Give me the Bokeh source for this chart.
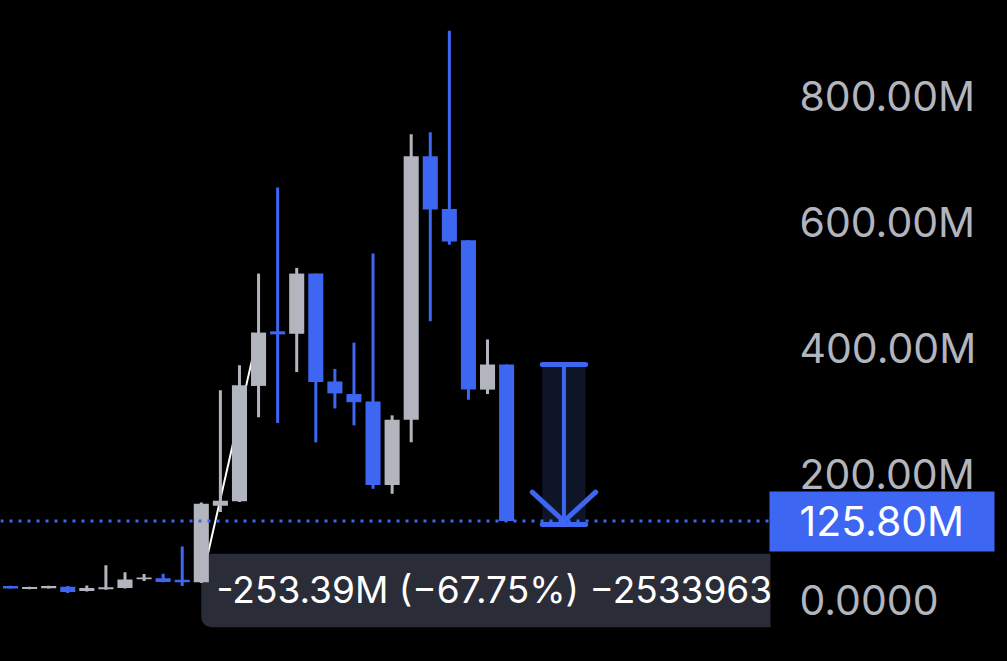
from bokeh.plotting import figure
from bokeh.models import Range1d, LinearAxis, FixedTicker, Span, ColumnDataSource
from bokeh.embed import file_html
from bokeh.resources import INLINE
from bokeh.core.properties import value

# ---- data (values in millions) ----
opens  = [22.9, 18.4, 19.4, 21.9, 14.9, 17.9, 19.9, 33.8, 35.3, 32.8, 28.8, 150.2, 157.1, 340.1, 426.6, 422.7, 518.1, 347.1, 327.2, 315.3, 183.0, 286.4, 704.1, 620.6, 570.8, 334.2, 374.0]
highs  = [23.4, 21.9, 23.3, 22.9, 23.9, 55.7, 44.8, 41.8, 42.3, 85.5, 155.1, 333.2, 372.9, 518.1, 654.4, 527.1, 518.1, 367.0, 408.7, 550.0, 293.4, 738.9, 741.9, 903.0, 570.8, 413.7, 374.0]
lows   = [18.9, 17.9, 18.9, 11.9, 14.4, 16.9, 18.9, 30.8, 28.8, 22.9, 27.8, 140.2, 156.1, 290.4, 281.4, 362.0, 250.6, 304.3, 277.5, 177.0, 169.1, 250.6, 442.6, 563.9, 318.2, 327.2, 125.8]
closes = [18.9, 21.4, 22.9, 13.4, 19.9, 20.9, 33.3, 36.3, 29.3, 28.8, 153.2, 158.1, 341.1, 424.6, 421.7, 518.1, 346.1, 328.2, 314.3, 183.0, 286.4, 704.1, 619.6, 568.8, 334.2, 374.0, 125.8]

last_price = 125.80
last_price_label = "125.80M"
tick_values = [0, 200, 400, 600, 800]
tick_labels = ["0.0000", "200.00M", "400.00M", "600.00M", "800.00M"]

# measure tool drawing
measure_x = [27.87, 30.14]
measure_from = 374.0
measure_change = -253.39
measure_to = measure_from + measure_change
measure_text = "-253.39M (\u221267.75%) \u22122533963"
tooltip_x = [10.0, 45.0]
tooltip_y = [-42.3, 74.0]
tooltip_text_pos = (10.8, 17.5)

# trend line
trend_x = [10.0, 12.74]
trend_y = [28.0, 392.0]

# ---- style ----
BLUE = "#3d66f2"
GRAY = "#b2b5be"
W, H = 1007, 661
FRAME_W = 770
AXIS_EXT = 210          # width taken by the tick-label axis
PRICE_BOX_RIGHT = 225   # blue price box right edge, px from frame

colors = [GRAY if c >= o else BLUE for o, c in zip(opens, closes)]
src = ColumnDataSource(dict(
    x=list(range(len(opens))),
    top=[max(o, c) for o, c in zip(opens, closes)],
    bottom=[min(o, c) for o, c in zip(opens, closes)],
    high=highs, low=lows, color=colors,
))

p = figure(width=W, height=H, output_backend="svg", toolbar_location=None,
           x_range=Range1d(-0.524, 39.83), y_range=Range1d(-96.7, 950.9),
           min_border_left=0, min_border_right=W - FRAME_W,
           min_border_top=0, min_border_bottom=0,
           x_axis_location=None, y_axis_location=None)
p.background_fill_color = "#000000"
p.border_fill_color = "#000000"
p.outline_line_color = None
p.xgrid.visible = False
p.ygrid.visible = False

# price scale
ax = LinearAxis(ticker=FixedTicker(ticks=tick_values),
                major_label_overrides={v: t for v, t in zip(tick_values, tick_labels)})
ax.axis_line_color = None
ax.major_tick_line_color = None
ax.minor_tick_line_color = None
ax.major_tick_out = 0
ax.major_tick_in = 0
ax.major_label_standoff = 29
ax.major_label_text_font = "Inter"
ax.major_label_text_font_size = "41px"
ax.major_label_text_color = GRAY
p.add_layout(ax, "right")

# last price marker on the price scale
ax2 = LinearAxis(ticker=FixedTicker(ticks=[last_price]),
                 major_label_overrides={last_price: last_price_label})
ax2.axis_line_color = None
ax2.minor_tick_line_color = None
ax2.major_tick_line_color = BLUE
ax2.major_tick_line_width = 60
ax2.major_tick_in = AXIS_EXT
ax2.major_tick_out = PRICE_BOX_RIGHT - AXIS_EXT
ax2.major_label_standoff = 30 - AXIS_EXT - (PRICE_BOX_RIGHT - AXIS_EXT)
ax2.major_label_text_font = "Inter"
ax2.major_label_text_font_size = "41px"
ax2.major_label_text_color = "#ffffff"
p.add_layout(ax2, "right")

# measure box
p.quad(left=[measure_x[0]], right=[measure_x[1]], top=[measure_from], bottom=[measure_to],
       fill_color="#0d1527", line_color=None)

# trend line
p.line(trend_x, trend_y, line_color="white", line_width=2)

# tooltip box
p.quad(left=[tooltip_x[0]], right=[tooltip_x[1]], top=[tooltip_y[1]], bottom=[tooltip_y[0]],
       fill_color="#2a2d37", line_color=None, border_radius=10)

# candles
p.segment(x0="x", y0="low", x1="x", y1="high", line_color="color", line_width=3, source=src)
p.vbar(x="x", width=0.79, top="top", bottom="bottom", fill_color="color", line_color=None, source=src)

# measure arrow
mid = (measure_x[0] + measure_x[1]) / 2
p.segment(x0=[mid], y0=[measure_from], x1=[mid], y1=[measure_to], line_color=BLUE, line_width=4)
p.segment(x0=[measure_x[0], measure_x[0]], y0=[measure_from, measure_to],
          x1=[measure_x[1], measure_x[1]], y1=[measure_from, measure_to],
          line_color=BLUE, line_width=5, line_cap="round")
p.line([mid - 1.66, mid, mid + 1.66], [measure_to + 51, measure_to + 5, measure_to + 51],
       line_color=BLUE, line_width=5, line_cap="round", line_join="round")

# tooltip text
p.text(x=[tooltip_text_pos[0]], y=[tooltip_text_pos[1]], text=[measure_text], text_font=value("Inter"),
       text_font_size="37px", text_color="#ffffff", text_baseline="middle", text_align="left")

# last price line
p.add_layout(Span(location=last_price, dimension="width", line_color=BLUE,
                  line_dash="3 6", line_width=3))

html = file_html(p, INLINE)
html = html.replace("</head>", "<style>html,body{background:#000000;}</style></head>", 1)
open("out.html", "w").write(html)
